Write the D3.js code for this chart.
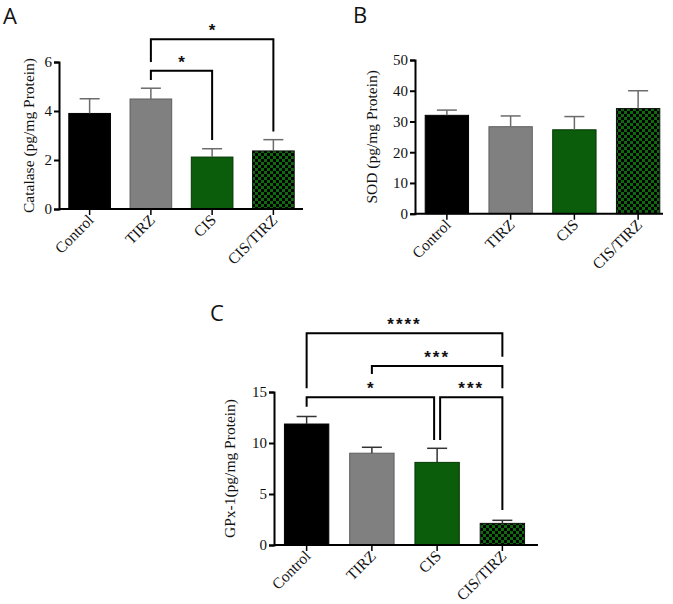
<!DOCTYPE html>
<html lang="en">
<head>
<meta charset="UTF-8">
<title>Catalase, SOD and GPx-1</title>
<script src="https://cdnjs.cloudflare.com/ajax/libs/d3/7.8.5/d3.min.js"></script>
<style>
  body { margin: 0; background: #fff; }
  .tick text { font-family: "Liberation Serif", "Times New Roman", serif; font-size: 15px; fill: #111; }
  .tlabel { font-family: "Liberation Serif", "Times New Roman", serif; font-size: 15.5px; fill: #111; }
  .ylab { font-family: "Liberation Serif", "Times New Roman", serif; font-size: 15.5px; fill: #111; text-anchor: middle; }
  .panel { font-family: "Open Sans", "Noto Sans", sans-serif; font-size: 22px; fill: #111; }
  .star { font-family: "Liberation Sans", Arial, sans-serif; font-size: 17px; font-weight: bold; text-anchor: middle; fill: #111; }
</style>
</head>
<body>
<div id="chart"></div>
<script>
// ---- data ----
const groups = ["Control", "TIRZ", "CIS", "CIS/TIRZ"];

const catalaseMean = [3.9, 4.49, 2.12, 2.37];
const catalaseErr  = [0.6, 0.44, 0.34, 0.46];
const catalaseTicks = [0, 2, 4, 6];

const sodMean = [32.0, 28.3, 27.3, 34.2];
const sodErr  = [1.7, 3.5, 4.3, 5.8];
const sodTicks = [0, 10, 20, 30, 40, 50];

const gpxMean = [11.86, 9.0, 8.1, 2.12];
const gpxErr  = [0.74, 0.58, 1.38, 0.3];
const gpxTicks = [0, 5, 10, 15];

// significance brackets (heights in data units)
const catalaseSig = [
  { from: "TIRZ", to: "CIS", y: 5.64, yl: 5.27, yr: 2.82, label: "*" },
  { from: "TIRZ", to: "CIS/TIRZ", y: 6.93, yl: 6.0, yr: 3.16, label: "*" }
];
const gpxSig = [
  { from: "Control", to: "CIS/TIRZ", y: 20.75, yl: 15.36, yr: 18.46, label: "****" },
  { from: "TIRZ", to: "CIS/TIRZ", y: 17.56, yl: 16.76, yr: 15.36, label: "***" },
  { from: "Control", to: "CIS", y: 14.48, yl: 13.56, yr: 10.29, dr: -3, label: "*" },
  { from: "CIS", to: "CIS/TIRZ", y: 14.48, yl: 10.29, yr: 3.43, dl: 3, label: "***" }
];

const fills = ["#000000", "#808080", "#0b5c0b", "url(#checker)"];
const strokes = ["#000000", "#5e5e5e", "#063806", "#111111"];

const svg = d3.select("#chart").append("svg")
  .attr("width", 673).attr("height", 604);

const defs = svg.append("defs");
const pat = defs.append("pattern")
  .attr("id", "checker")
  .attr("patternUnits", "userSpaceOnUse")
  .attr("width", 6).attr("height", 6);
pat.append("rect").attr("width", 6).attr("height", 6).attr("fill", "#0f6a0f");
pat.append("rect").attr("width", 3).attr("height", 3).attr("fill", "#000");
pat.append("rect").attr("x", 3).attr("y", 3).attr("width", 3).attr("height", 3).attr("fill", "#000");

function drawPanel(p) {
  const g = svg.append("g");
  const x = d3.scaleBand().domain(groups).range([p.x0, p.x1])
    .paddingInner(0.32).paddingOuter(0.16);
  const y = d3.scaleLinear().domain([0, d3.max(p.ticks)]).range([p.y0, p.yTop]);

  const rows = groups.map((k, i) => ({ k, m: p.mean[i], e: p.err[i], i }));

  // bars
  g.selectAll("rect.bar").data(rows).join("rect")
    .attr("class", "bar")
    .attr("x", d => x(d.k))
    .attr("y", d => y(d.m))
    .attr("width", x.bandwidth())
    .attr("height", d => y(0) - y(d.m))
    .attr("fill", d => fills[d.i])
    .attr("stroke", d => strokes[d.i])
    .attr("stroke-width", 1);

  // error bars (upper only)
  const cx = d => x(d.k) + x.bandwidth() / 2;
  g.selectAll("line.err").data(rows).join("line")
    .attr("x1", cx).attr("x2", cx)
    .attr("y1", d => y(d.m)).attr("y2", d => y(d.m + d.e))
    .attr("stroke", p.errColor).attr("stroke-width", 1.5);
  g.selectAll("line.cap").data(rows).join("line")
    .attr("x1", d => cx(d) - 10).attr("x2", d => cx(d) + 10)
    .attr("y1", d => y(d.m + d.e)).attr("y2", d => y(d.m + d.e))
    .attr("stroke", p.errColor).attr("stroke-width", 1.5);

  // y axis
  const ya = g.append("g").attr("transform", `translate(${p.x0},0)`)
    .call(d3.axisLeft(y).tickValues(p.ticks).tickSize(5).tickPadding(2).tickFormat(d3.format("d")));
  ya.select(".domain").attr("stroke", "#000").attr("stroke-width", 2);
  ya.selectAll(".tick line").attr("stroke", "#000").attr("stroke-width", 2);
  ya.selectAll(".tick text").attr("font-size", 15).attr("font-family", null);

  // x axis
  const xa = g.append("g").attr("transform", `translate(0,${p.y0})`)
    .call(d3.axisBottom(x).tickSize(6).tickFormat(""));
  xa.select(".domain").remove();
  xa.selectAll(".tick line").attr("stroke", "#000").attr("stroke-width", 1.5);
  g.append("line")
    .attr("x1", p.x0).attr("x2", p.xEnd)
    .attr("y1", p.y0).attr("y2", p.y0)
    .attr("stroke", "#000").attr("stroke-width", 2);

  g.selectAll("text.tlabel").data(groups).join("text")
    .attr("class", "tlabel")
    .attr("text-anchor", "end")
    .attr("transform", d => `translate(${x(d) + x.bandwidth() / 2 + 5},${p.y0 + 12}) rotate(-45)`)
    .text(d => d);

  // y label
  g.append("text").attr("class", "ylab")
    .attr("transform", `translate(${p.labX},${(p.y0 + p.yTop) / 2}) rotate(-90)`)
    .text(p.ylabel);

  // panel letter
  g.append("text").attr("class", "panel")
    .attr("x", p.letterX).attr("y", p.letterY).text(p.letter);

  // significance brackets
  (p.sig || []).forEach(s => {
    const xl = x(s.from) + x.bandwidth() / 2 + (s.dl || 0);
    const xr = x(s.to) + x.bandwidth() / 2 + (s.dr || 0);
    g.append("path")
      .attr("d", `M${xl},${y(s.yl)}V${y(s.y)}H${xr}V${y(s.yr)}`)
      .attr("fill", "none").attr("stroke", "#000").attr("stroke-width", 2);
    g.append("text").attr("class", "star")
      .attr("x", (xl + xr) / 2).attr("y", y(s.y) - 3)
      .attr("letter-spacing", s.label.length > 1 ? 2 : 0)
      .text(s.label);
  });
}

drawPanel({ mean: catalaseMean, err: catalaseErr, ticks: catalaseTicks, sig: catalaseSig,
  x0: 59, x1: 304, xEnd: 303, y0: 209, yTop: 62, labX: 34, errColor: "#6b6b6b",
  ylabel: "Catalase (pg/mg Protein)", letter: "A", letterX: 3, letterY: 24 });

drawPanel({ mean: sodMean, err: sodErr, ticks: sodTicks,
  x0: 415, x1: 670, xEnd: 663, y0: 213.7, yTop: 60, labX: 377, errColor: "#6b6b6b",
  ylabel: "SOD (pg/mg Protein)", letter: "B", letterX: 353, letterY: 23 });

drawPanel({ mean: gpxMean, err: gpxErr, ticks: gpxTicks, sig: gpxSig,
  x0: 274, x1: 535, xEnd: 538, y0: 545, yTop: 392, labX: 235, errColor: "#333",
  ylabel: "GPx-1(pg/mg Protein)", letter: "C", letterX: 210, letterY: 321 });
</script>
</body>
</html>
